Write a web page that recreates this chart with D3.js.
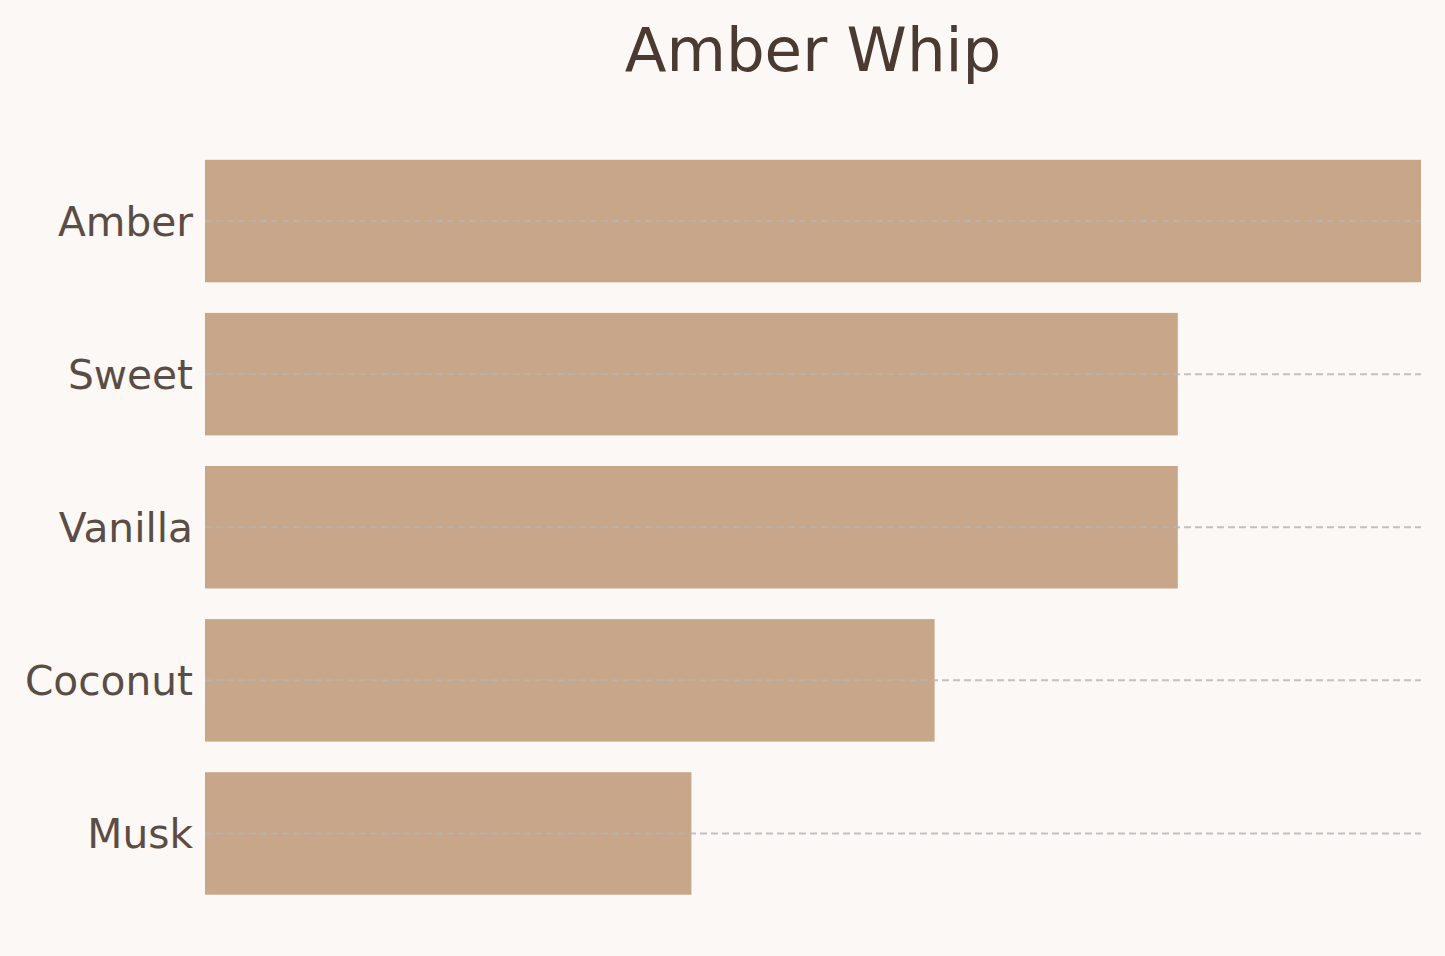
<!DOCTYPE html>
<html>
<head>
<meta charset="utf-8">
<script src="https://cdn.jsdelivr.net/npm/d3@7"></script>
<style>
  html, body { margin: 0; padding: 0; background: #fcf8f5; }
  svg { display: block; font-family: "DejaVu Sans", sans-serif; }
</style>
</head>
<body>
<svg id="chart"></svg>
<script>
// chart data
const notes = ["Amber", "Sweet", "Vanilla", "Coconut", "Musk"];
const strength = [5, 4, 4, 3, 2];
const chartTitle = "Amber Whip";

const width = 1445, height = 956;
const margin = { top: 144.5, right: 24, bottom: 46, left: 205 };

const svg = d3.select("#chart")
    .attr("width", width)
    .attr("height", height);

svg.append("rect")
    .attr("width", width)
    .attr("height", height)
    .attr("fill", "#fcf8f5");

const x = d3.scaleLinear()
    .domain([0, d3.max(strength)])
    .range([margin.left, width - margin.right]);

const y = d3.scaleBand()
    .domain(notes)
    .range([margin.top, height - margin.bottom])
    .paddingInner(0.2)
    .paddingOuter(0.1);

const rows = notes.map((n, i) => ({ note: n, value: strength[i] }));

// bars
svg.append("g")
  .selectAll("rect")
  .data(rows)
  .join("rect")
    .attr("x", x(0))
    .attr("y", d => y(d.note))
    .attr("width", d => x(d.value) - x(0))
    .attr("height", y.bandwidth())
    .attr("fill", "#c8a68a");

// dashed guide lines at each bar centre
svg.append("g")
  .selectAll("line")
  .data(rows)
  .join("line")
    .attr("x1", x(0))
    .attr("x2", x.range()[1])
    .attr("y1", d => y(d.note) + y.bandwidth() / 2)
    .attr("y2", d => y(d.note) + y.bandwidth() / 2)
    .attr("stroke", "#b4b4b4")
    .attr("stroke-opacity", 0.8)
    .attr("stroke-width", 2)
    .attr("stroke-dasharray", "7,4");

// y axis labels
const yAxis = d3.axisLeft(y).tickSize(0).tickPadding(12);
const yg = svg.append("g")
    .attr("transform", `translate(${margin.left},0)`)
    .call(yAxis);
yg.select(".domain").remove();
yg.selectAll("text")
    .attr("font-family", "DejaVu Sans, sans-serif")
    .attr("font-size", 40.7)
    .attr("fill", "#5a4d45")
    .attr("dy", "0.36em");

// title
svg.append("text")
    .attr("x", (x.range()[0] + x.range()[1]) / 2)
    .attr("y", 71)
    .attr("text-anchor", "middle")
    .attr("font-size", 61)
    .attr("fill", "#4a3a31")
    .text(chartTitle);
</script>
</body>
</html>
